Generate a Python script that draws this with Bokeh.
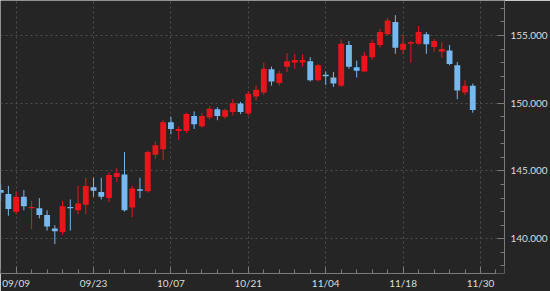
from bokeh.plotting import figure
from bokeh.models import FixedTicker, Range1d, ColumnDataSource, PrintfTickFormatter
from bokeh.embed import file_html
from bokeh.resources import INLINE

dates = ["09/05", "09/06", "09/09", "09/10", "09/11", "09/12", "09/13", "09/16", "09/17", "09/18",
         "09/19", "09/20", "09/23", "09/24", "09/25", "09/26", "09/27", "09/30", "10/01", "10/02",
         "10/03", "10/04", "10/07", "10/08", "10/09", "10/10", "10/11", "10/14", "10/15", "10/16",
         "10/17", "10/18", "10/21", "10/22", "10/23", "10/24", "10/25", "10/28", "10/29", "10/30",
         "10/31", "11/01", "11/04", "11/05", "11/06", "11/07", "11/08", "11/11", "11/12", "11/13",
         "11/14", "11/15", "11/18", "11/19", "11/20", "11/21", "11/22", "11/25", "11/26", "11/27",
         "11/28", "11/29"]

opens = [143.6, 143.3, 142.0, 143.1, 142.25, 142.25, 141.75, 140.75, 140.5, 142.35,
         142.1, 142.5, 143.8, 143.45, 143.0, 144.55, 144.75, 142.3, 143.65, 143.5,
         146.2, 146.6, 148.6, 147.95, 147.95, 149.05, 148.3, 148.95, 149.55, 149.0,
         149.35, 149.98, 149.25, 150.5, 150.8, 152.5, 151.5, 152.7, 153.0, 153.0,
         153.1, 151.7, 152.1, 151.9, 151.3, 154.3, 152.65, 152.35, 153.4, 154.3,
         155.1, 156.0, 153.95, 154.4, 154.4, 155.1, 154.15, 153.8, 153.9, 152.8,
         150.8, 151.3]
highs = [144.0, 143.9, 143.5, 143.6, 142.8, 143.0, 142.1, 141.0, 142.8, 142.9,
         143.9, 144.5, 144.5, 144.5, 144.9, 145.2, 146.4, 143.9, 144.5, 146.5,
         147.2, 148.75, 149.0, 148.3, 149.3, 149.4, 149.3, 149.8, 149.7, 149.6,
         150.3, 150.1, 150.9, 151.3, 153.0, 152.7, 152.4, 153.7, 153.65, 153.6,
         153.4, 152.9, 152.35, 152.3, 154.7, 154.6, 153.15, 153.8, 154.7, 155.5,
         156.3, 156.5, 155.1, 154.6, 155.7, 155.25, 154.75, 154.5, 154.3, 153.05,
         151.7, 151.45]
lows = [142.8, 141.7, 141.8, 142.1, 140.7, 141.5, 140.6, 139.6, 140.3, 140.6,
        141.8, 141.8, 143.1, 142.9, 142.7, 144.2, 142.0, 141.6, 143.0, 143.4,
        145.9, 145.8, 147.7, 147.3, 147.8, 148.1, 148.2, 148.8, 148.75, 148.85,
        149.1, 149.2, 149.1, 150.2, 150.6, 151.3, 151.3, 152.3, 152.55, 152.7,
        151.6, 151.6, 151.35, 151.2, 151.2, 152.55, 151.9, 152.3, 153.2, 154.1,
        155.0, 153.65, 153.6, 153.0, 154.3, 153.65, 153.8, 153.35, 152.8, 150.3,
        150.6, 149.3]
closes = [143.4, 142.2, 143.1, 142.4, 142.35, 141.75, 140.9, 140.55, 142.4, 142.25,
          142.6, 143.9, 143.55, 143.1, 144.7, 144.85, 142.1, 143.7, 143.55, 146.4,
          146.9, 148.6, 148.1, 148.1, 149.2, 148.45, 149.05, 149.6, 149.05, 149.5,
          150.0, 149.36, 150.7, 151.0, 152.55, 151.6, 152.2, 153.1, 153.2, 153.2,
          151.7, 152.8, 152.0, 151.45, 154.4, 152.7, 152.4, 153.5, 154.45, 155.25,
          156.1, 154.1, 154.4, 154.5, 155.25, 154.35, 154.6, 154.0, 152.9, 150.95,
          151.3, 149.5]

tick_positions = [2, 12, 22, 32, 42, 52, 62]
tick_labels = ["09/09", "09/23", "10/07", "10/21", "11/04", "11/18", "11/30"]
y_ticks = [140, 145, 150, 155]

UP = "#e8161c"
DOWN = "#76b8f0"
BG = "#252525"

xs = list(range(len(dates)))
colors = [UP if c >= o else DOWN for o, c in zip(opens, closes)]
mids = [(o + c) / 2 for o, c in zip(opens, closes)]
hts = [max(abs(c - o), 0.09) for o, c in zip(opens, closes)]

src = ColumnDataSource(dict(x=xs, o=opens, h=highs, l=lows, c=closes,
                            color=colors, mid=mids, ht=hts, date=dates))

p = figure(width=550, height=291, output_backend="svg", toolbar_location=None,
           x_range=Range1d(-0.02, 65.1), y_range=Range1d(137.435, 157.583),
           y_axis_location="right",
           min_border_left=0, min_border_top=0, min_border_right=44, min_border_bottom=18,
           background_fill_color=BG, border_fill_color=BG, outline_line_color=None)

p.segment(x0="x", y0="h", x1="x", y1="l", color="color", line_width=1, source=src)
p.rect(x="x", y="mid", width=0.76, height="ht", fill_color="color", line_color=None, source=src)

# x axis
xa = p.xaxis[0]
xa.ticker = FixedTicker(ticks=tick_positions, minor_ticks=list(range(0, 65, 2)))
xa.major_label_overrides = {t: s for t, s in zip(tick_positions, tick_labels)}
xa.bounds = (-0.02, 64)
xa.axis_line_color = "#7a7a7a"
xa.major_tick_line_color = "#7a7a7a"
xa.minor_tick_line_color = "#7a7a7a"
xa.major_tick_in = 7
xa.major_tick_out = 0
xa.minor_tick_in = 4
xa.minor_tick_out = 0
xa.major_label_standoff = 3
xa.major_label_text_color = "#dcdcdc"
xa.major_label_text_font = "Lato"
xa.major_label_text_font_size = "10px"

# y axis
ya = p.yaxis[0]
ya.ticker = FixedTicker(ticks=y_ticks, minor_ticks=list(range(138, 158)))
ya.formatter = PrintfTickFormatter(format="%.3f")
ya.bounds = (138, 158)
ya.axis_line_color = "#7a7a7a"
ya.major_tick_line_color = "#7a7a7a"
ya.minor_tick_line_color = "#7a7a7a"
ya.major_tick_in = 7
ya.major_tick_out = 0
ya.minor_tick_in = 4
ya.minor_tick_out = 0
ya.major_label_standoff = 6
ya.major_label_text_color = "#dcdcdc"
ya.major_label_text_font = "Lato"
ya.major_label_text_font_size = "10px"

p.xgrid.ticker = FixedTicker(ticks=tick_positions)
p.ygrid.ticker = FixedTicker(ticks=y_ticks)
for g in (p.xgrid[0], p.ygrid[0]):
    g.grid_line_color = "#4e4e4e"
    g.grid_line_dash = "2 3"
    g.grid_line_width = 1

open("out.html", "w").write(file_html(p, INLINE))
